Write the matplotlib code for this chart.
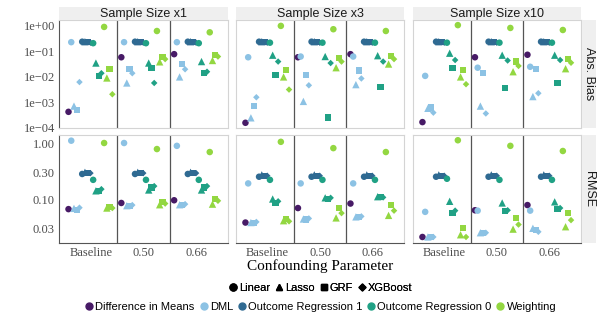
import matplotlib
matplotlib.use("Agg")
from matplotlib import pyplot as plt
from matplotlib.lines import Line2D
import numpy as np

# categories
conf_levels = ["Baseline", "0.50", "0.66"]
sample_sizes = ["Sample Size x1", "Sample Size x3", "Sample Size x10"]
metrics = ["Abs. Bias", "RMSE"]
estimators = ["Difference in Means", "DML", "Outcome Regression 1", "Outcome Regression 0", "Weighting"]
models = ["Linear", "Lasso", "GRF", "XGBoost"]

# values: estimator -> one list per model (Linear, Lasso, GRF, XGBoost), each over conf_levels
bias_x1 = {
    "Difference in Means": [[4.3e-4, 0.059, 0.078]],
    "DML": [[0.23, 0.23, 0.23], [7.2e-4, 5.8e-3, 0.010], [5.1e-4, 0.021, 0.032], [6.3e-3, 0.014, 0.020]],
    "Outcome Regression 1": [[0.24, 0.24, 0.24], [0.24, 0.24, 0.24], [0.23, 0.23, 0.23], [0.22, 0.22, 0.22]],
    "Outcome Regression 0": [[0.21, 0.21, 0.21], [0.035, 0.035, 0.040], [0.011, 0.022, 0.014], [0.014, 5.8e-3, 0.016]],
    "Weighting": [[0.91, 0.63, 0.56], [9.1e-3, 0.039, 0.044], [0.020, 0.060, 0.074], [2.1e-3, 0.050, 0.063]],
}
bias_x3 = {
    "Difference in Means": [[1.6e-4, 0.059, 0.078]],
    "DML": [[0.059, 0.063, 0.063], [2.5e-4, 1.1e-3, 5.0e-3], [7.2e-4, 0.012, 0.018], [1.6e-3, 4.7e-3, 8.7e-3]],
    "Outcome Regression 1": [[0.24, 0.24, 0.24], [0.24, 0.24, 0.24], [0.23, 0.23, 0.23], [0.22, 0.22, 0.22]],
    "Outcome Regression 0": [[0.22, 0.22, 0.22], [0.071, 0.063, 0.068], [0.012, 2.6e-4, 4.0e-3], [0.040, 0.035, 0.040]],
    "Weighting": [[1.0, 0.74, 0.63], [0.010, 0.023, 0.032], [0.019, 0.054, 0.068], [3.2e-3, 0.040, 0.050]],
}
bias_x10 = {
    "Difference in Means": [[1.7e-4, 0.059, 0.074]],
    "DML": [[0.011, 0.023, 0.025], [5.9e-4, 7.2e-4, 1.7e-3], [6.3e-4, 0.014, 0.021], [4.0e-4, 3.7e-4, 2.3e-3]],
    "Outcome Regression 1": [[0.24, 0.24, 0.24], [0.24, 0.24, 0.24], [0.23, 0.23, 0.23], [0.22, 0.22, 0.22]],
    "Outcome Regression 0": [[0.22, 0.22, 0.22], [0.085, 0.071, 0.071], [0.023, 3.6e-3, 5.8e-3], [0.046, 0.044, 0.046]],
    "Weighting": [[1.07, 0.83, 0.69], [0.010, 0.016, 0.021], [0.019, 0.040, 0.050], [5.2e-3, 0.027, 0.036]],
}
rmse_x1 = {
    "Difference in Means": [[0.066, 0.085, 0.095]],
    "DML": [[1.10, 1.0, 0.89], [0.068, 0.076, 0.079], [0.064, 0.074, 0.077], [0.070, 0.078, 0.081]],
    "Outcome Regression 1": [[0.28, 0.28, 0.28], [0.30, 0.30, 0.30], [0.29, 0.29, 0.29], [0.29, 0.29, 0.29]],
    "Outcome Regression 0": [[0.22, 0.22, 0.22], [0.14, 0.145, 0.145], [0.14, 0.16, 0.16], [0.15, 0.17, 0.17]],
    "Weighting": [[1.0, 0.78, 0.69], [0.069, 0.079, 0.081], [0.071, 0.089, 0.10], [0.069, 0.083, 0.093]],
}
rmse_x3 = {
    "Difference in Means": [[0.038, 0.069, 0.083]],
    "DML": [[0.19, 0.19, 0.19], [0.038, 0.044, 0.048], [0.037, 0.043, 0.047], [0.039, 0.045, 0.049]],
    "Outcome Regression 1": [[0.25, 0.25, 0.25], [0.27, 0.27, 0.27], [0.26, 0.26, 0.26], [0.26, 0.26, 0.26]],
    "Outcome Regression 0": [[0.22, 0.22, 0.22], [0.10, 0.105, 0.11], [0.085, 0.10, 0.107], [0.091, 0.105, 0.107]],
    "Weighting": [[1.05, 0.81, 0.69], [0.041, 0.046, 0.051], [0.044, 0.069, 0.079], [0.040, 0.056, 0.062]],
}
rmse_x10 = {
    "Difference in Means": [[0.021, 0.063, 0.078]],
    "DML": [[0.059, 0.062, 0.062], [0.021, 0.025, 0.030], [0.021, 0.025, 0.028], [0.021, 0.025, 0.026]],
    "Outcome Regression 1": [[0.25, 0.25, 0.25], [0.27, 0.27, 0.27], [0.26, 0.26, 0.26], [0.26, 0.26, 0.26]],
    "Outcome Regression 0": [[0.23, 0.22, 0.22], [0.091, 0.085, 0.089], [0.056, 0.062, 0.066], [0.062, 0.063, 0.069]],
    "Weighting": [[1.12, 0.89, 0.72], [0.023, 0.029, 0.032], [0.030, 0.046, 0.056], [0.021, 0.035, 0.042]],
}

colors = {
    "Difference in Means": "#471a66",
    "DML": "#8cc2e4",
    "Outcome Regression 1": "#2f6a92",
    "Outcome Regression 0": "#20a185",
    "Weighting": "#93d741",
}
shapes = {"Linear": ("o", 22), "Lasso": ("^", 28), "GRF": ("s", 20), "XGBoost": ("D", 11)}

panels = [[bias_x1, bias_x3, bias_x10], [rmse_x1, rmse_x3, rmse_x10]]

serif = ["Liberation Serif", "DejaVu Serif"]
sans = ["Liberation Sans", "DejaVu Sans"]

W, H = 608, 320


def box(x0, y0, x1, y1):
    return [x0 / W, 1 - y1 / H, (x1 - x0) / W, (y1 - y0) / H]


fig = plt.figure(figsize=(6.08, 3.2), dpi=100)

col_x = [(59, 228), (236, 404), (413, 581)]
row_y = [(20, 128), (135, 243)]

# dodge slots: DiM, then 4 models for each of the other estimators
offsets = np.linspace(-0.42, 0.41, 17)
x = np.arange(1, len(conf_levels) + 1)

for r in range(2):
    for c in range(3):
        ax = fig.add_axes(box(col_x[c][0], row_y[r][0], col_x[c][1], row_y[r][1]))
        data = panels[r][c]
        slot = 0
        for est in estimators:
            for m, vals in enumerate(data[est]):
                mk, s = shapes[models[m]]
                ax.scatter(x + offsets[slot], vals, marker=mk, s=s, color=colors[est],
                           edgecolors="none", zorder=3)
                slot += 1
        ax.set_yscale("log")
        ax.set_xlim(0.4, 3.6)
        for b in [1.5, 2.5]:
            ax.axvline(b, color="#555555", lw=0.9, zorder=1)
        if r == 0:
            ax.set_ylim(1e-4, 1.7)
            ax.set_yticks([1e-4, 1e-3, 1e-2, 1e-1, 1])
            ax.set_yticklabels(["1e\u221204", "1e\u221203", "1e\u221202", "1e\u221201", "1e+00"])
        else:
            ax.set_ylim(0.0164, 1.39)
            ax.set_yticks([0.03, 0.1, 0.3, 1.0])
            ax.set_yticklabels(["0.03", "0.10", "0.30", "1.00"])
        ax.minorticks_off()
        ax.set_xticks(x)
        ax.set_xticklabels(conf_levels)
        ax.tick_params(length=0, pad=3, labelsize=9, labelcolor="#4d4d4d")
        for lab in ax.get_xticklabels() + ax.get_yticklabels():
            lab.set_family(serif)
        if c > 0:
            ax.set_yticklabels([])
        if r == 0:
            ax.set_xticklabels([])
        for sp in ax.spines.values():
            sp.set_color("#d4d4d4")
            sp.set_linewidth(0.8)
        if c == 0:
            ax.spines["left"].set_color("#555555")
        if r == 1:
            ax.spines["bottom"].set_color("#555555")

# facet strips
for c in range(3):
    sax = fig.add_axes(box(col_x[c][0], 7, col_x[c][1], 20))
    sax.set_facecolor("#efefef")
    sax.set_xticks([])
    sax.set_yticks([])
    for sp in sax.spines.values():
        sp.set_visible(False)
    sax.text(0.5, 0.45, sample_sizes[c], ha="center", va="center", fontsize=9,
             family=sans, color="#1a1a1a", transform=sax.transAxes)
for r in range(2):
    sax = fig.add_axes(box(582, row_y[r][0], 596, row_y[r][1]))
    sax.set_facecolor("#efefef")
    sax.set_xticks([])
    sax.set_yticks([])
    for sp in sax.spines.values():
        sp.set_visible(False)
    sax.text(0.5, 0.5, metrics[r], ha="center", va="center", fontsize=9, rotation=-90,
             family=sans, color="#1a1a1a", transform=sax.transAxes)

fig.text(320 / W, 1 - 266 / H, "Confounding Parameter", ha="center", va="center",
         fontsize=11, family=serif, color="black")

# legends
shape_handles = [Line2D([], [], marker=shapes[m][0], linestyle="", color="black",
                        markersize=5 if m != "XGBoost" else 3.5) for m in models]
leg1 = fig.legend(shape_handles, models, ncol=4, loc="center", bbox_to_anchor=(320 / W, 1 - 288 / H),
                  frameon=False, prop={"family": sans, "size": 8}, handletextpad=0.05,
                  columnspacing=0.3, handlelength=1.0, borderaxespad=0)
color_handles = [Line2D([], [], marker="o", linestyle="", color=colors[e], markersize=5) for e in estimators]
fig.legend(color_handles, estimators, ncol=5, loc="center", bbox_to_anchor=(320 / W, 1 - 307 / H),
           frameon=False, prop={"family": sans, "size": 8}, handletextpad=0.05,
           columnspacing=0.3, handlelength=1.0, borderaxespad=0)
fig.add_artist(leg1)

plt.savefig("out.png", dpi=100)
